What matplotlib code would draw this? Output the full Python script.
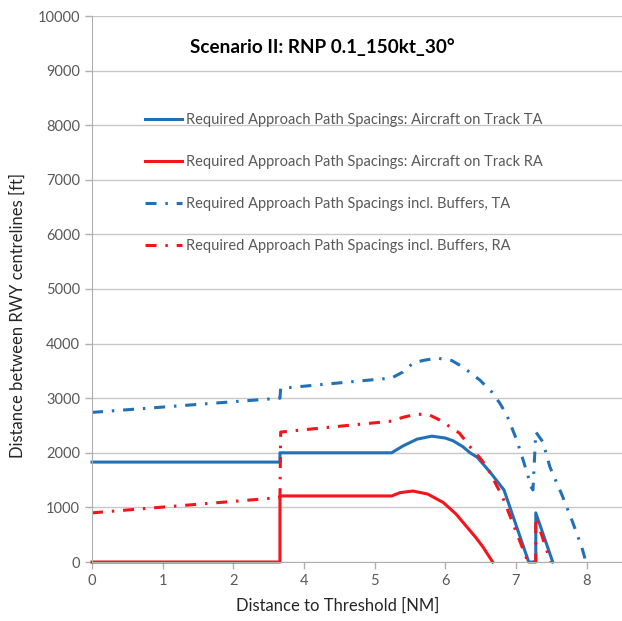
import numpy as np
import matplotlib.pyplot as plt

# x positions are in tick-slot units (the axis labels skip "3")
tick_pos = [0, 1, 2, 3, 4, 5, 6, 7]
tick_lab = ['0', '1', '2', '4', '5', '6', '7', '8']
y_ticks = [0, 1000, 2000, 3000, 4000, 5000, 6000, 7000, 8000, 9000, 10000]

# Required Approach Path Spacings: Aircraft on Track TA
ta_x = [0, 2.66, 2.66, 4.24, 4.40, 4.60, 4.81, 5.00, 5.11, 5.25, 5.35, 5.45,
        5.63, 5.83, 6.18, 6.28, 6.28, 6.52]
ta_y = [1830, 1830, 2000, 2000, 2125, 2250, 2305, 2270, 2220, 2110, 2000,
        1920, 1650, 1320, 0, 0, 900, 0]

# Required Approach Path Spacings: Aircraft on Track RA
ra_x = [0, 2.66, 2.66, 4.24, 4.36, 4.54, 4.75, 4.97, 5.15, 5.30, 5.43, 5.53,
        5.67]
ra_y = [0, 0, 1210, 1210, 1270, 1300, 1245, 1090, 880, 650, 450, 280, 0]

# incl. Buffers, TA
tab_x = [0, 2.66, 2.67, 4.24, 4.40, 4.54, 4.68, 4.88, 5.09, 5.25, 5.49, 5.66,
         5.77, 5.87, 6.01, 6.10, 6.22, 6.24, 6.28, 6.38, 6.48, 6.65, 6.79,
         6.93, 6.99]
tab_y = [2740, 3000, 3180, 3370, 3480, 3640, 3690, 3735, 3690, 3570, 3330,
         3110, 2910, 2690, 2235, 1870, 1360, 1320, 2380, 2200, 1740, 1230,
         770, 275, 0]

# incl. Buffers, RA
rab_x = [0, 2.66, 2.67, 4.24, 4.40, 4.60, 4.78, 4.92, 5.20, 5.35, 5.49, 5.59,
         5.81, 6.17, 6.28, 6.28, 6.49]
rab_y = [900, 1180, 2380, 2580, 2650, 2710, 2690, 2600, 2360, 2110, 1905,
         1740, 1190, 0, 0, 820, 0]

blue = '#2271B8'
red = '#F4141A'
grey = '#595959'
dashdot = (0, (3.6, 2.9, 0.8, 2.9))

plt.rcParams['font.family'] = ['Lato', 'DejaVu Sans']

fig = plt.figure(figsize=(6.22, 6.21), dpi=100)
ax = fig.add_axes([92 / 622, 1 - 562 / 621, 530 / 622, 546 / 621])

ax.plot(ta_x, ta_y, color=blue, lw=2.2, clip_on=False,
        label='Required Approach Path Spacings: Aircraft on Track TA')
ax.plot(ra_x, ra_y, color=red, lw=2.2, clip_on=False,
        label='Required Approach Path Spacings: Aircraft on Track RA')
ax.plot(tab_x, tab_y, color=blue, lw=2.2, ls=dashdot,
        label='Required Approach Path Spacings incl. Buffers, TA')
ax.plot(rab_x, rab_y, color=red, lw=2.2, ls=dashdot,
        label='Required Approach Path Spacings incl. Buffers, RA')

ax.set_xlim(0, 7.5)
ax.set_ylim(0, 10000)
ax.set_xticks(tick_pos)
ax.set_xticklabels(tick_lab)
ax.set_yticks(y_ticks)
ax.grid(axis='y', color='#C8C8C8', lw=1)
ax.set_axisbelow(True)
for s in ['top', 'right']:
    ax.spines[s].set_visible(False)
for s in ['left', 'bottom']:
    ax.spines[s].set_color('#B0B0B0')
ax.tick_params(colors='#B0B0B0', labelcolor=grey, labelsize=10.5,
               length=5, width=1)

ax.set_xlabel('Distance to Threshold [NM]', fontsize=12, color='#262626')
ax.set_ylabel('Distance between RWY centrelines [ft]', fontsize=12,
              color='#262626')
ax.xaxis.set_label_coords(0.464, -0.066)
ax.yaxis.set_label_coords(-0.124, 0.452)

ax.text(0.434, 0.943, 'Scenario II: RNP 0.1_150kt_30°', transform=ax.transAxes,
        ha='center', va='center', fontsize=13.6, fontweight='bold')

leg = ax.legend(loc='upper left', bbox_to_anchor=(0.075, 0.847), frameon=False,
                fontsize=10.5, labelspacing=1.93, handlelength=2.55,
                handletextpad=0.25, labelcolor=grey)

plt.savefig('out.png', dpi=100)
